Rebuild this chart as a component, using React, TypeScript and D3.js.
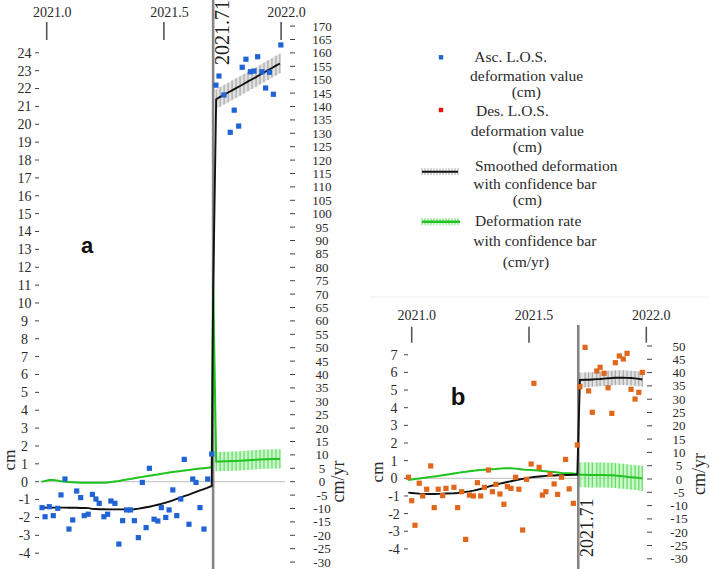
import React from 'react';
import * as d3 from 'd3';

const JUMP = 2021.71;

// ---------- Panel a (ascending) ----------
const ascTime = [2020.980, 2020.993, 2021.011, 2021.028, 2021.047, 2021.061, 2021.078, 2021.095, 2021.111, 2021.128, 2021.145, 2021.160, 2021.177, 2021.195, 2021.210, 2021.224, 2021.244, 2021.260, 2021.274, 2021.291, 2021.308, 2021.324, 2021.341, 2021.358, 2021.374, 2021.391, 2021.408, 2021.424, 2021.438, 2021.458, 2021.474, 2021.489, 2021.508, 2021.522, 2021.538, 2021.555, 2021.572, 2021.587, 2021.607, 2021.623, 2021.637, 2021.654, 2021.671, 2021.687, 2021.704,
  2021.722, 2021.735, 2021.756, 2021.783, 2021.800, 2021.819, 2021.834, 2021.850, 2021.869, 2021.884, 2021.900, 2021.918, 2021.934, 2021.950, 2021.967, 2021.999];
const ascValue = [-1.45, -1.96, -1.40, -1.90, -1.49, -0.74, 0.15, -2.65, -2.14, -0.52, -0.89, -1.90, -1.82, -0.71, -0.97, -1.21, -1.96, -1.82, -1.08, -1.21, -3.49, -2.18, -1.58, -1.58, -2.18, -3.13, -0.04, -2.57, 0.75, -2.10, -2.20, -1.45, -2.00, -1.58, -0.46, -1.90, -0.97, 1.25, -2.38, 0.15, -0.04, -1.45, -2.65, 0.15, 1.55,
  22.19, 22.70, 21.64, 19.55, 20.79, 19.90, 23.19, 23.64, 22.94, 22.98, 23.78, 22.94, 22.03, 22.91, 21.68, 24.44];

const smoothATime = [2020.980, 2020.993, 2021.011, 2021.028, 2021.047, 2021.061, 2021.078, 2021.095, 2021.111, 2021.128, 2021.145, 2021.160, 2021.177, 2021.195, 2021.210, 2021.224, 2021.244, 2021.260, 2021.274, 2021.291, 2021.308, 2021.324, 2021.341, 2021.358, 2021.374, 2021.391, 2021.408, 2021.424, 2021.438, 2021.458, 2021.474, 2021.489, 2021.508, 2021.522, 2021.538, 2021.555, 2021.572, 2021.587, 2021.607, 2021.623, 2021.637, 2021.654, 2021.671, 2021.687, 2021.704,
  2021.710,
  2021.723, 2021.740, 2021.757, 2021.774, 2021.791, 2021.808, 2021.825, 2021.842, 2021.859, 2021.876, 2021.893, 2021.910, 2021.927, 2021.944, 2021.961, 2021.978, 2021.995];
const smoothAValue = [-1.45, -1.45, -1.45, -1.45, -1.45, -1.45, -1.45, -1.46, -1.46, -1.46, -1.47, -1.47, -1.48, -1.52, -1.53, -1.54, -1.54, -1.55, -1.55, -1.55, -1.55, -1.55, -1.55, -1.55, -1.54, -1.51, -1.47, -1.43, -1.40, -1.34, -1.29, -1.24, -1.17, -1.11, -1.04, -0.96, -0.88, -0.81, -0.72, -0.64, -0.57, -0.49, -0.41, -0.33, -0.24,
  10.5,
  21.40, 21.53, 21.66, 21.78, 21.90, 22.02, 22.14, 22.27, 22.40, 22.52, 22.64, 22.77, 22.90, 23.03, 23.15, 23.28, 23.40];
const rateAValue = [0, 0.3, 0.6, 0.6, 0.4, 0.2, 0, -0.1, -0.2, -0.3, -0.4, -0.4, -0.4, -0.4, -0.4, -0.4, -0.4, -0.3, -0.1, 0.1, 0.3, 0.55, 0.8, 1.0, 1.3, 1.55, 1.8, 2.05, 2.25, 2.5, 2.7, 2.95, 3.2, 3.4, 3.6, 3.8, 4.0, 4.2, 4.4, 4.6, 4.75, 4.9, 5.05, 5.2, 5.35,
  74,
  7.5, 7.5, 7.6, 7.6, 7.7, 7.7, 7.8, 7.9, 8.0, 8.1, 8.2, 8.3, 8.4, 8.4, 8.5, 8.5, 8.5];
const smoothAErrPre = 0.05;
const smoothAErrPost = 0.55;
const rateAErrPre = 0.3;
const rateAErrPost = 3.6;

// ---------- Panel b (descending) ----------
const desTime = [2020.986, 2021.000, 2021.014, 2021.032, 2021.047, 2021.064, 2021.081, 2021.096, 2021.113, 2021.132, 2021.146, 2021.180, 2021.196, 2021.213, 2021.230, 2021.246, 2021.263, 2021.280, 2021.294, 2021.310, 2021.327, 2021.344, 2021.359, 2021.376, 2021.393, 2021.408, 2021.423, 2021.443, 2021.457, 2021.473, 2021.490, 2021.509, 2021.521, 2021.543, 2021.557, 2021.572, 2021.590, 2021.607, 2021.622, 2021.639, 2021.656, 2021.671, 2021.689, 2021.706,
  2021.717, 2021.739, 2021.754, 2021.770, 2021.789, 2021.803, 2021.820, 2021.837, 2021.853, 2021.868, 2021.885, 2021.902, 2021.918, 2021.935, 2021.952, 2021.968, 2021.983];
const desValue = [0.06, -1.27, -2.66, -0.28, -1.00, -0.62, 0.70, -1.66, -0.62, -0.98, -0.57, -0.51, -1.66, -0.76, -3.46, -0.95, -1.00, -0.25, -1.00, -0.51, 0.47, -0.76, -0.34, -0.89, -1.47, -0.47, -0.57, 0.06, -0.62, -2.93, -0.06, 0.81, 5.38, 0.62, -0.95, -0.76, 0.22, -0.32, -0.91, 0.06, 1.07, -0.60, -1.42, 1.89,
  5.19, 7.42, 4.95, 3.74, 6.08, 6.29, 5.95, 5.13, 3.68, 6.55, 6.93, 6.76, 7.08, 5.04, 4.49, 4.87, 6.00];
const smoothBValue = [-0.81, -0.83, -0.85, -0.87, -0.88, -0.89, -0.89, -0.89, -0.88, -0.87, -0.86, -0.85, -0.83, -0.80, -0.77, -0.74, -0.70, -0.65, -0.60, -0.54, -0.47, -0.41, -0.35, -0.30, -0.25, -0.21, -0.17, -0.11, -0.07, -0.03, 0.01, 0.05, 0.07, 0.10, 0.12, 0.14, 0.15, 0.16, 0.17, 0.18, 0.19, 0.19, 0.20, 0.20,
  5.57, 5.58, 5.58, 5.60, 5.62, 5.63, 5.65, 5.67, 5.68, 5.70, 5.70, 5.70, 5.69, 5.68, 5.66, 5.63, 5.60];
const rateBValue = [-0.4, -0.2, 0.0, 0.2, 0.4, 0.6, 0.8, 0.95, 1.15, 1.4, 1.6, 2.1, 2.3, 2.5, 2.7, 2.95, 3.1, 3.25, 3.4, 3.5, 3.6, 3.7, 3.8, 3.9, 4.0, 4.0, 4.0, 3.9, 3.8, 3.6, 3.45, 3.35, 3.3, 3.15, 3.05, 2.9, 2.75, 2.6, 2.45, 2.3, 2.2, 2.15, 2.05, 2.0,
  1.6, 1.6, 1.55, 1.5, 1.5, 1.5, 1.5, 1.45, 1.4, 1.3, 1.15, 1.0, 0.85, 0.7, 0.55, 0.4, 0.3];
const smoothBErrPre = 0.04;
const smoothBErrPost = 0.42;
const rateBErrPre = 0.3;
const rateBErrPost = 4.7;

// ---------- Axes ----------
const topTicks = [2021.0, 2021.5, 2022.0];
const leftTicksA = d3.range(-4, 25, 1);
const rightTicksA = d3.range(-30, 171, 5);
const leftTicksB = d3.range(-4, 8, 1);
const rightTicksB = d3.range(-30, 51, 5);

const legendItems = [
  { kind: 'square', color: '#1f63d6', lines: ['Asc. L.O.S.', 'deformation value', '(cm)'] },
  { kind: 'square', color: '#e81010', lines: ['Des. L.O.S.', 'deformation value', '(cm)'] },
  { kind: 'smooth', color: '#111', lines: ['Smoothed deformation', 'with confidence bar', '(cm)'] },
  { kind: 'rate', color: '#1fc41f', lines: ['Deformation rate', 'with confidence bar', '(cm/yr)'] },
];

const SERIF = '"Liberation Serif", "DejaVu Serif", serif';
const SANS = '"Liberation Sans", Arial, sans-serif';
const TXT = '#2a2a2a';

type PanelProps = {
  x: d3.ScaleLinear<number, number>;
  yL: d3.ScaleLinear<number, number>;
  yR: d3.ScaleLinear<number, number>;
  leftTicks: number[];
  rightTicks: number[];
  topTickY: [number, number];
  topLabelY: number;
  topLabelDx: number;
  leftDashX: [number, number];
  leftLabelX: number;
  rightDashX: [number, number];
  rightLabelX: number;
  zeroX: [number, number];
  refY: [number, number];
  refLabel: { x: number; y: number; size: number };
  cmLabel: { x: number; y: number; size: number };
  cmyrLabel: { x: number; y: number; size: number };
  letter: { text: string; x: number; y: number; size: number };
  scatterT: number[];
  scatterV: number[];
  scatterColor: string;
  smoothT: number[];
  smoothV: number[];
  rateV: number[];
  sErr: [number, number];
  rErr: [number, number];
};

function Panel(p: PanelProps) {
  const { x, yL, yR } = p;
  const errOf = (t: number, e: [number, number]) => (t < JUMP - 1e-6 ? e[0] : t > JUMP + 1e-6 ? e[1] : 0);
  const idx = p.smoothT.map((_, i) => i);
  const post = idx.filter((i) => p.smoothT[i] > JUMP + 1e-6);

  const smoothLine = d3.line<number>().x((i) => x(p.smoothT[i])).y((i) => yL(p.smoothV[i]));
  const rateLine = d3.line<number>().x((i) => x(p.smoothT[i])).y((i) => yR(p.rateV[i]));
  const smoothArea = d3
    .area<number>()
    .x((i) => x(p.smoothT[i]))
    .y0((i) => yL(p.smoothV[i] - errOf(p.smoothT[i], p.sErr)))
    .y1((i) => yL(p.smoothV[i] + errOf(p.smoothT[i], p.sErr)));
  const rateArea = d3
    .area<number>()
    .x((i) => x(p.smoothT[i]))
    .y0((i) => yR(p.rateV[i] - errOf(p.smoothT[i], p.rErr)))
    .y1((i) => yR(p.rateV[i] + errOf(p.smoothT[i], p.rErr)));

  const rx = x(JUMP);
  return (
    <g>
      {topTicks.map((t) => (
        <g key={'tt' + t}>
          <line x1={x(t)} x2={x(t)} y1={p.topTickY[0]} y2={p.topTickY[1]} stroke="#555" strokeWidth={1.6} />
          <text x={x(t) + p.topLabelDx} y={p.topLabelY} dy="0.35em" textAnchor="middle" fontSize={14} fill={TXT}>
            {t.toFixed(1)}
          </text>
        </g>
      ))}
      {p.leftTicks.map((v) => (
        <g key={'l' + v}>
          <line x1={p.leftDashX[0]} x2={p.leftDashX[1]} y1={yL(v)} y2={yL(v)} stroke="#444" strokeWidth={1} />
          <text x={p.leftLabelX} y={yL(v)} dy="0.35em" textAnchor="middle" fontSize={14} fill={TXT}>
            {v}
          </text>
        </g>
      ))}
      {p.rightTicks.map((v) => (
        <g key={'r' + v}>
          <line x1={p.rightDashX[0]} x2={p.rightDashX[1]} y1={yR(v)} y2={yR(v)} stroke="#444" strokeWidth={1} />
          <text x={p.rightLabelX} y={yR(v)} dy="0.35em" textAnchor="middle" fontSize={13} fill={TXT}>
            {v}
          </text>
        </g>
      ))}
      <text transform={`translate(${p.cmLabel.x},${p.cmLabel.y}) rotate(-90)`} textAnchor="middle" dy="0.35em" fontSize={p.cmLabel.size} fill={TXT}>
        cm
      </text>
      <text transform={`translate(${p.cmyrLabel.x},${p.cmyrLabel.y}) rotate(-90)`} textAnchor="middle" dy="0.35em" fontSize={p.cmyrLabel.size} fill={TXT}>
        cm/yr
      </text>
      <text x={p.letter.x} y={p.letter.y} textAnchor="middle" fontFamily={SANS} fontWeight="bold" fontSize={p.letter.size} fill="#111">
        {p.letter.text}
      </text>

      <line x1={p.zeroX[0]} x2={p.zeroX[1]} y1={yL(0)} y2={yL(0)} stroke="#bdbdbd" strokeWidth={1} />

      <path d={smoothArea(post) || ''} fill="#d4d4d4" opacity={0.7} />
      {idx.map((i) => {
        const e = errOf(p.smoothT[i], p.sErr);
        if (e <= 0) return null;
        return (
          <line key={'sb' + i} x1={x(p.smoothT[i])} x2={x(p.smoothT[i])} y1={yL(p.smoothV[i] - e)} y2={yL(p.smoothV[i] + e)} stroke="#a8a8a8" strokeWidth={1.2} />
        );
      })}
      <path d={rateArea(post) || ''} fill="#b6f2b6" opacity={0.7} />
      {idx.map((i) => {
        const e = errOf(p.smoothT[i], p.rErr);
        if (e <= 0) return null;
        return (
          <line key={'rb' + i} x1={x(p.smoothT[i])} x2={x(p.smoothT[i])} y1={yR(p.rateV[i] - e)} y2={yR(p.rateV[i] + e)} stroke="#5fdc5f" strokeWidth={1.2} />
        );
      })}

      <line x1={rx} x2={rx} y1={p.refY[0]} y2={p.refY[1]} stroke="#858585" strokeWidth={2.6} />
      <text transform={`translate(${p.refLabel.x},${p.refLabel.y}) rotate(-90)`} fontSize={p.refLabel.size} fill="#222">
        2021.71
      </text>

      <path d={rateLine(idx) || ''} fill="none" stroke="#1fc41f" strokeWidth={2} />
      <path d={smoothLine(idx) || ''} fill="none" stroke="#111" strokeWidth={1.9} />

      {p.scatterT.map((t, i) => (
        <rect key={'s' + i} x={x(t) - 2.6} y={yL(p.scatterV[i]) - 2.6} width={5.2} height={5.2} fill={p.scatterColor} />
      ))}
    </g>
  );
}

function Legend() {
  const boxes = [
    { mx: 441, my: 57.3, ty: [57.3, 75.7, 91.7], tx: [474.3, 470, 511.7] },
    { mx: 441, my: 110, ty: [110.7, 130.7, 146.7], tx: [476, 470.7, 512.7] },
    { mx: 440, my: 171.7, ty: [165.7, 184, 200], tx: [475, 473.3, 512.7] },
    { mx: 441, my: 221.7, ty: [220.7, 240.7, 261.7], tx: [475, 473.3, 502.7] },
  ];
  return (
    <g>
      {legendItems.map((it, k) => {
        const b = boxes[k];
        return (
          <g key={'lg' + k}>
            {it.kind === 'square' && <rect x={b.mx - 2.2} y={b.my - 2.2} width={4.4} height={4.4} fill={it.color} />}
            {it.kind === 'smooth' && (
              <g>
                {d3.range(0, 13).map((j) => (
                  <line key={j} x1={422 + j * 3} x2={422 + j * 3} y1={b.my - 3.5} y2={b.my + 3.5} stroke="#aaa" strokeWidth={1} />
                ))}
                <line x1={422} x2={458} y1={b.my} y2={b.my} stroke="#111" strokeWidth={2} />
              </g>
            )}
            {it.kind === 'rate' && (
              <g>
                {d3.range(0, 13).map((j) => (
                  <line key={j} x1={422 + j * 3} x2={422 + j * 3} y1={b.my - 3.5} y2={b.my + 3.5} stroke="#5fdc5f" strokeWidth={1} />
                ))}
                <line x1={422} x2={460} y1={b.my} y2={b.my} stroke="#1fc41f" strokeWidth={2.4} />
              </g>
            )}
            {it.lines.map((s, j) => (
              <text key={j} x={b.tx[j]} y={b.ty[j]} dy="0.33em" fontSize={15.5} fill={TXT}>
                {s}
              </text>
            ))}
          </g>
        );
      })}
    </g>
  );
}

export default function App() {
  const xA = d3.scaleLinear().domain([2021, 2022]).range([46.7, 281.1]);
  const yA = d3.scaleLinear().domain([0, 24]).range([481.7, 52.8]);
  const yAr = d3.scaleLinear().domain([0, 170]).range([481.7, 26.1]);

  const xB = d3.scaleLinear().domain([2021, 2022]).range([411.7, 646.3]);
  const yB = d3.scaleLinear().domain([0, 7]).range([478.3, 354.75]);
  const yBr = d3.scaleLinear().domain([0, 50]).range([479, 346]);

  return (
    <svg width={710} height={569} style={{ position: 'absolute', left: 0, top: 0, background: '#fff' }} fontFamily={SERIF}>
      <rect x={0} y={0} width={710} height={569} fill="#fff" />
      <line x1={370} x2={710} y1={297} y2={297} stroke="#efefef" strokeWidth={1} />
      <Panel
        x={xA}
        yL={yA}
        yR={yAr}
        leftTicks={leftTicksA}
        rightTicks={rightTicksA}
        topTickY={[22, 40]}
        topLabelY={12}
        topLabelDx={5.5}
        leftDashX={[35, 39]}
        leftLabelX={24.5}
        rightDashX={[290, 295]}
        rightLabelX={322}
        zeroX={[40, 285]}
        refY={[0, 569]}
        refLabel={{ x: 229, y: 65, size: 20 }}
        cmLabel={{ x: 9, y: 460, size: 17 }}
        cmyrLabel={{ x: 338, y: 481.5, size: 18 }}
        letter={{ text: 'a', x: 87, y: 253, size: 22 }}
        scatterT={ascTime}
        scatterV={ascValue}
        scatterColor="#1f63d6"
        smoothT={smoothATime}
        smoothV={smoothAValue}
        rateV={rateAValue}
        sErr={[smoothAErrPre, smoothAErrPost]}
        rErr={[rateAErrPre, rateAErrPost]}
      />
      <Panel
        x={xB}
        yL={yB}
        yR={yBr}
        leftTicks={leftTicksB}
        rightTicks={rightTicksB}
        topTickY={[326.7, 342.7]}
        topLabelY={315}
        topLabelDx={5}
        leftDashX={[404, 408]}
        leftLabelX={394}
        rightDashX={[647, 652]}
        rightLabelX={679}
        zeroX={[408, 643]}
        refY={[325, 569]}
        refLabel={{ x: 593, y: 557, size: 18 }}
        cmLabel={{ x: 377, y: 472, size: 17 }}
        cmyrLabel={{ x: 698.5, y: 474, size: 18 }}
        letter={{ text: 'b', x: 458, y: 405, size: 24 }}
        scatterT={desTime}
        scatterV={desValue}
        scatterColor="#e0671b"
        smoothT={desTime}
        smoothV={smoothBValue}
        rateV={rateBValue}
        sErr={[smoothBErrPre, smoothBErrPost]}
        rErr={[rateBErrPre, rateBErrPost]}
      />
      <Legend />
    </svg>
  );
}
